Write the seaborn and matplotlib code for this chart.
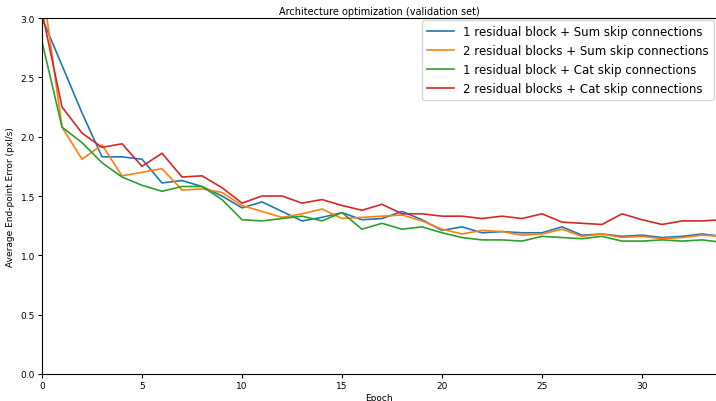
import pandas as pd
import matplotlib
matplotlib.use("Agg")
import matplotlib.pyplot as plt
import seaborn as sns

# validation error per epoch
epochs = list(range(35))

sum_1res = [3.00, 2.60, 2.20, 1.83, 1.83, 1.81, 1.61, 1.63, 1.58, 1.50,
            1.40, 1.45, 1.37, 1.29, 1.32, 1.36, 1.30, 1.31, 1.37, 1.30,
            1.21, 1.24, 1.19, 1.20, 1.19, 1.19, 1.24, 1.17, 1.18, 1.16,
            1.17, 1.15, 1.16, 1.18, 1.16]
sum_2res = [3.30, 2.08, 1.81, 1.93, 1.67, 1.70, 1.73, 1.55, 1.56, 1.53,
            1.42, 1.37, 1.32, 1.35, 1.39, 1.31, 1.32, 1.33, 1.34, 1.29,
            1.22, 1.18, 1.21, 1.20, 1.17, 1.18, 1.22, 1.16, 1.18, 1.15,
            1.16, 1.14, 1.15, 1.17, 1.16]
cat_1res = [2.80, 2.08, 1.95, 1.78, 1.66, 1.59, 1.54, 1.58, 1.58, 1.47,
            1.30, 1.29, 1.31, 1.33, 1.29, 1.36, 1.22, 1.27, 1.22, 1.24,
            1.19, 1.15, 1.13, 1.13, 1.12, 1.16, 1.15, 1.14, 1.16, 1.12,
            1.12, 1.13, 1.12, 1.13, 1.11]
cat_2res = [3.05, 2.25, 2.03, 1.91, 1.94, 1.75, 1.86, 1.66, 1.67, 1.57,
            1.44, 1.50, 1.50, 1.44, 1.47, 1.42, 1.38, 1.43, 1.35, 1.35,
            1.33, 1.33, 1.31, 1.33, 1.31, 1.35, 1.28, 1.27, 1.26, 1.35,
            1.30, 1.26, 1.29, 1.29, 1.30]

labels = ['1 residual block + Sum skip connections',
          '2 residual blocks + Sum skip connections',
          '1 residual block + Cat skip connections',
          '2 residual blocks + Cat skip connections']

#long-form table for seaborn
frames = []
for lab, vals in zip(labels, [sum_1res, sum_2res, cat_1res, cat_2res]):
    frames.append(pd.DataFrame({'Epoch': epochs, 'error': vals, 'model': lab}))
df = pd.concat(frames, ignore_index=True)

fig = plt.figure(figsize=(7.16, 4.02), dpi=100)
ax = fig.add_axes([0.0587, 0.0672, 0.9413, 0.8855])

sns.lineplot(data=df, x='Epoch', y='error', hue='model', hue_order=labels,
             palette=sns.color_palette('tab10', 4), linewidth=1.2, ax=ax)

ax.set_xlim(0, 33.7)
ax.set_ylim(0, 3.0)
ax.set_xticks([0, 5, 10, 15, 20, 25, 30])
ax.set_title('Architecture optimization (validation set)', fontsize=7, pad=3)
ax.set_xlabel('Epoch', fontsize=6.5, labelpad=2)
ax.set_ylabel('Average End-point Error (pxl/s)', fontsize=6.5, labelpad=4)
ax.tick_params(labelsize=6.5, length=3, pad=2)
ax.spines['right'].set_visible(False)
ax.legend(loc='upper right', fontsize=8.5, handlelength=2.3, borderaxespad=0.2,
          labelspacing=0.5)

plt.savefig('out.png', dpi=100)
